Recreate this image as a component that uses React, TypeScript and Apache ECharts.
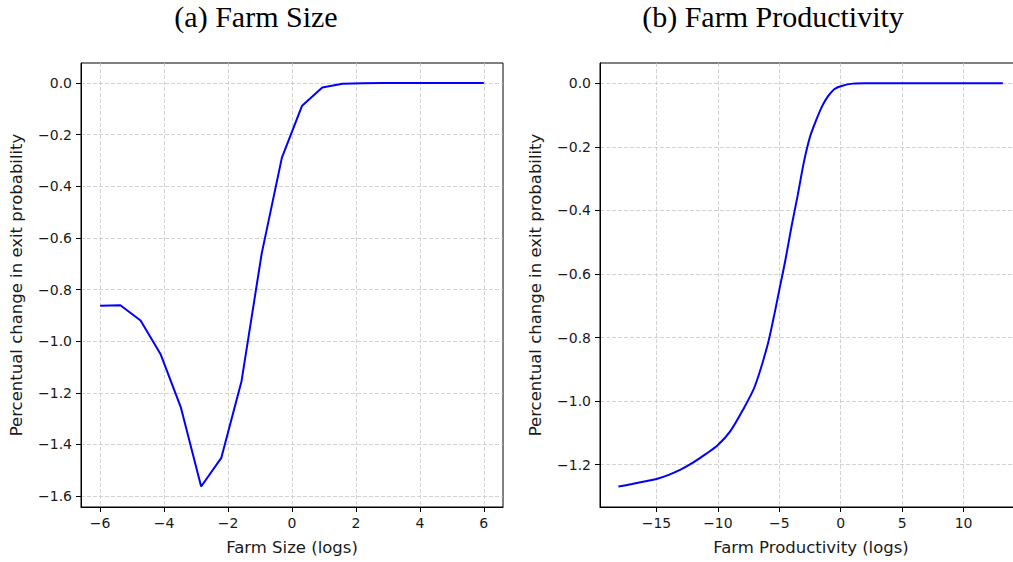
import React, { useEffect, useRef } from "react";
import * as echarts from "echarts";

// Panel (a): Farm Size
const sizeX = [-6, -5.368, -4.737, -4.105, -3.474, -2.842, -2.211, -1.579, -0.947, -0.316, 0.316, 0.947, 1.579, 2.211, 2.842, 3.474, 4.105, 4.737, 5.368, 6];
const sizeY = [-0.863, -0.861, -0.92, -1.052, -1.258, -1.563, -1.452, -1.155, -0.66, -0.289, -0.088, -0.017, -0.003, -0.0005, 0, 0, 0, 0, 0, 0];

// Panel (b): Farm Productivity
const prodX = [-18.1, -17, -16, -15, -14, -13, -12, -11, -10, -9, -8, -7, -6, -5.5, -5, -4.5, -4, -3.5, -3, -2.5, -2, -1.5, -1, -0.5, 0, 1, 2, 3, 5, 7, 9, 11, 13.2];
const prodY = [-1.269, -1.261, -1.253, -1.245, -1.232, -1.215, -1.193, -1.167, -1.138, -1.095, -1.03, -0.954, -0.83, -0.745, -0.65, -0.555, -0.449, -0.352, -0.248, -0.168, -0.116, -0.071, -0.039, -0.018, -0.009, -0.001, 0, 0, 0, 0, 0, 0, 0];

const sizeXTicks = [-6, -4, -2, 0, 2, 4, 6];
const sizeYTicks = [0, -0.2, -0.4, -0.6, -0.8, -1.0, -1.2, -1.4, -1.6];
const prodXTicks = [-15, -10, -5, 0, 5, 10];
const prodYTicks = [0, -0.2, -0.4, -0.6, -0.8, -1.0, -1.2];

const titleA = "(a) Farm Size";
const titleB = "(b) Farm Productivity";
const xNameA = "Farm Size (logs)";
const xNameB = "Farm Productivity (logs)";
const yName = "Percentual change in exit probability";

const SANS = "DejaVu Sans";
const SERIF = "Liberation Serif";
const minus = (s: string) => s.replace("-", "\u2212");

function xAxisOpt(idx: number, min: number, max: number, ticks: number[], name: string) {
  return {
    type: "value",
    gridIndex: idx,
    min,
    max,
    name,
    nameLocation: "middle",
    nameGap: 32,
    nameTextStyle: { fontFamily: SANS, fontSize: 16.5, color: "#1a1a1a" },
    axisLine: { show: true, onZero: false, lineStyle: { color: "#000", width: 1 } },
    axisTick: { show: true, length: 5, customValues: ticks, lineStyle: { color: "#000" } },
    axisLabel: {
      customValues: ticks,
      margin: 9,
      fontFamily: SANS,
      fontSize: 14,
      color: "#1a1a1a",
      formatter: (v: number) => minus(String(v)),
    },
    splitLine: { show: true, lineStyle: { color: "#c8c8c8", type: [4, 2], width: 0.8 } },
  };
}

function yAxisOpt(idx: number, min: number, max: number, ticks: number[]) {
  return {
    type: "value",
    gridIndex: idx,
    min,
    max,
    name: yName,
    nameLocation: "middle",
    nameGap: 56,
    nameRotate: 90,
    nameTextStyle: { fontFamily: SANS, fontSize: 16.5, color: "#1a1a1a" },
    axisLine: { show: true, onZero: false, lineStyle: { color: "#000", width: 1 } },
    axisTick: { show: true, length: 5, customValues: ticks, lineStyle: { color: "#000" } },
    axisLabel: {
      customValues: ticks,
      margin: 9,
      fontFamily: SANS,
      fontSize: 14,
      color: "#1a1a1a",
      formatter: (v: number) => (Math.abs(v) < 1e-9 ? "0.0" : minus(v.toFixed(1))),
    },
    splitLine: { show: true, lineStyle: { color: "#c8c8c8", type: [4, 2], width: 0.8 } },
  };
}

export default function App() {
  const ref = useRef<HTMLDivElement>(null);
  useEffect(() => {
    if (!ref.current) return;
    const chart = echarts.init(ref.current, undefined, { renderer: "svg" });
    chart.setOption({
      animation: false,
      backgroundColor: "#fff",
      grid: [
        { left: 81, top: 63, width: 422, height: 444, show: true, borderColor: "#000", borderWidth: 1, backgroundColor: "transparent" },
        { left: 600, top: 63, width: 422, height: 444, show: true, borderColor: "#000", borderWidth: 1, backgroundColor: "transparent" },
      ],
      xAxis: [
        xAxisOpt(0, -6.6, 6.6, sizeXTicks, xNameA),
        xAxisOpt(1, -19.6, 14.76, prodXTicks, xNameB),
      ],
      yAxis: [
        yAxisOpt(0, -1.6426, 0.0775, sizeYTicks),
        yAxisOpt(1, -1.3332, 0.0639, prodYTicks),
      ],
      series: [
        {
          type: "line",
          xAxisIndex: 0,
          yAxisIndex: 0,
          data: sizeX.map((x, i) => [x, sizeY[i]]),
          showSymbol: false,
          lineStyle: { color: "#0000ff", width: 2 },
          itemStyle: { color: "#0000ff" },
        },
        {
          type: "line",
          xAxisIndex: 1,
          yAxisIndex: 1,
          data: prodX.map((x, i) => [x, prodY[i]]),
          showSymbol: false,
          smooth: 0.3,
          lineStyle: { color: "#0000ff", width: 2 },
          itemStyle: { color: "#0000ff" },
        },
      ],
      graphic: [
        { type: "text", x: 256, y: 16, style: { text: titleA, font: `30px "${SERIF}"`, fill: "#000", align: "center", verticalAlign: "middle" } },
        { type: "text", x: 773, y: 16, style: { text: titleB, font: `30px "${SERIF}"`, fill: "#000", align: "center", verticalAlign: "middle" } },
      ],
    });
    return () => chart.dispose();
  }, []);
  return (
    <div style={{ position: "absolute", left: 0, top: 0, width: 1013, height: 562, overflow: "hidden", background: "#fff" }}>
      <div ref={ref} style={{ width: 1040, height: 562 }} />
    </div>
  );
}
